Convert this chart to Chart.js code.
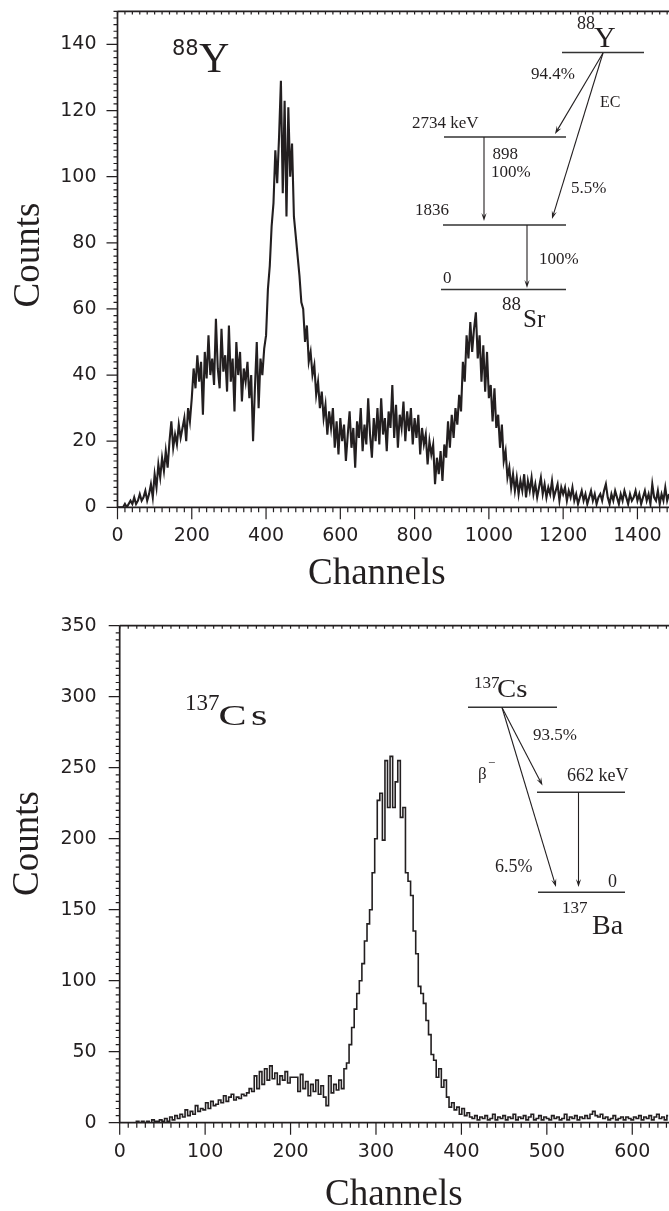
<!DOCTYPE html>
<html>
<head>
<meta charset="utf-8">
<script src="https://cdn.jsdelivr.net/npm/chart.js@4.4.1/dist/chart.umd.min.js"></script>
<style>
  body { margin: 0; background: #fff; overflow: hidden; }
  canvas { position: absolute; left: 0; }
</style>
</head>
<body>
<canvas id="y88Chart" width="669" height="605" style="top:0;width:669px;height:605px"></canvas>
<canvas id="cs137Chart" width="669" height="601" style="top:610px;width:669px;height:601px"></canvas>
<script>
// 88Y spectrum, one value every 5 channels starting at channel 0
const y88Start = 0;
const y88Step = 5;
const y88Counts = [
  0, 0, 0, 0, 1, 0, 1, 2, 1, 3, 1, 2, 4, 2, 3, 5, 2, 4, 7, 3,
  10, 6, 13, 9, 15, 11, 17, 12, 20, 26, 18, 22, 19, 25, 21, 24, 27, 20, 30, 26,
  33, 42, 36, 46, 38, 44, 28, 47, 39, 52, 40, 45, 37, 57, 42, 36, 54, 41, 46, 35,
  55, 38, 45, 29, 50, 40, 47, 32, 42, 38, 44, 33, 40, 20, 36, 50, 30, 45, 40, 48,
  52, 66, 73, 85, 92, 108, 98, 112, 129, 95, 123, 88, 121, 100, 110, 88, 82, 76, 70, 62,
  60, 50, 55, 44, 47, 40, 43, 34, 38, 30, 35, 27, 31, 22, 29, 24, 30, 18, 26, 16,
  27, 20, 25, 14, 22, 29, 18, 24, 12, 26, 21, 30, 17, 25, 19, 33, 22, 15, 27, 20,
  30, 19, 33, 22, 27, 17, 29, 24, 37, 21, 31, 18, 28, 24, 32, 20, 29, 23, 30, 19,
  27, 21, 28, 16, 24, 19, 22, 13, 20, 16, 19, 7, 15, 10, 17, 8, 19, 15, 26, 18,
  28, 21, 30, 25, 34, 29, 44, 38, 52, 45, 56, 47, 54, 59, 45, 52, 38, 49, 35, 47,
  33, 37, 26, 36, 24, 28, 18, 25, 14, 17, 9, 12, 6, 10, 5, 9, 4, 8, 5, 10,
  3, 8, 5, 9, 4, 7, 3, 6, 9, 4, 7, 3, 6, 4, 8, 3, 5, 7, 2, 6,
  4, 6, 2, 5, 3, 6, 2, 4, 1, 3, 5, 2, 4, 1, 3, 5, 2, 4, 1, 3,
  4, 2, 5, 7, 3, 1, 4, 2, 5, 3, 1, 4, 2, 5, 3, 1, 4, 2, 3, 5,
  2, 4, 1, 3, 5, 2, 4, 1, 7, 3, 2, 5, 1, 4, 2, 6, 2, 4
];
const y88XTicks = [0, 200, 400, 600, 800, 1000, 1200, 1400];
const y88YTicks = [0, 20, 40, 60, 80, 100, 120, 140];

// 137Cs spectrum, one value every 3 channels starting at channel 0
const cs137Start = 0;
const cs137Step = 3;
const cs137Counts = [
  0, 0, 0, 0, 0, 0, 0, 1, 0, 1, 0, 1, 0, 2, 1, 1, 2, 1, 3, 1,
  4, 2, 5, 3, 6, 4, 9, 5, 8, 6, 12, 8, 10, 9, 14, 10, 15, 12, 13, 16,
  14, 19, 15, 18, 20, 16, 18, 17, 20, 19, 21, 24, 22, 33, 24, 36, 27, 38, 30, 40,
  31, 35, 27, 33, 30, 36, 28, 32, 32, 32, 22, 34, 24, 29, 19, 27, 22, 30, 20, 26,
  18, 12, 33, 21, 27, 23, 30, 24, 38, 42, 55, 67, 80, 91, 100, 112, 128, 140, 150, 176,
  200, 227, 232, 199, 255, 222, 258, 222, 240, 255, 215, 222, 176, 170, 160, 135, 119, 96, 91, 84,
  72, 62, 48, 44, 32, 38, 25, 30, 18, 11, 14, 9, 11, 6, 10, 5, 7, 4, 3, 5,
  2, 4, 3, 5, 2, 3, 6, 2, 4, 3, 5, 2, 4, 3, 6, 2, 4, 3, 5, 2,
  4, 6, 2, 3, 5, 2, 4, 3, 2, 5, 3, 4, 2, 3, 6, 2, 4, 3, 5, 2,
  4, 3, 5, 3, 6, 8, 5, 4, 6, 3, 4, 2, 3, 5, 2, 3, 4, 2, 4, 3,
  2, 4, 3, 5, 2, 4, 3, 5, 2, 4, 6, 3, 4, 2, 5
];
const cs137XTicks = [0, 100, 200, 300, 400, 500, 600];
const cs137YTicks = [0, 50, 100, 150, 200, 250, 300, 350];

const ink = "#231f20";
const serif = "'Liberation Serif', 'Times New Roman', serif";
const sans = "'DejaVu Sans', sans-serif";

function toPoints(start, step, counts) {
  return counts.map((c, i) => ({ x: start + i * step, y: c }));
}

// axis lines with minor/major tick marks, plus the ruled top border
function framePlugin(xMinor, xMajor, yMinor, yMajor) {
  return {
    id: "frame",
    afterDraw(chart) {
      const { ctx, chartArea: a, scales: { x, y } } = chart;
      ctx.save();
      ctx.strokeStyle = ink;
      ctx.lineWidth = 1.7;
      ctx.beginPath();
      ctx.moveTo(a.left, a.top);
      ctx.lineTo(a.left, a.bottom);
      ctx.lineTo(a.right, a.bottom);
      ctx.moveTo(a.left, a.top);
      ctx.lineTo(a.right, a.top);
      ctx.stroke();
      ctx.lineWidth = 1.2;
      ctx.beginPath();
      for (let v = y.min; v <= y.max + 1e-6; v += yMinor) {
        const py = y.getPixelForValue(v);
        const len = Math.abs(v % yMajor) < 1e-6 ? 11 : 4;
        ctx.moveTo(a.left - len, py);
        ctx.lineTo(a.left, py);
      }
      for (let v = x.min; v <= x.max + 1e-6; v += xMinor) {
        const px = x.getPixelForValue(v);
        const len = Math.abs(v % xMajor) < 1e-6 ? 12 : 5;
        ctx.moveTo(px, a.bottom);
        ctx.lineTo(px, a.bottom + len);
        ctx.moveTo(px, a.top);
        ctx.lineTo(px, a.top + 3);
      }
      ctx.stroke();
      ctx.restore();
    }
  };
}

function txt(ctx, s, x, y, size, family, ls, sx) {
  ctx.save();
  ctx.font = size + "px " + family;
  ctx.letterSpacing = (ls || 0) + "px";
  ctx.textAlign = "left";
  ctx.textBaseline = "alphabetic";
  ctx.translate(x, y);
  ctx.scale(sx || 1, 1);
  ctx.fillText(s, 0, 0);
  ctx.restore();
}

function level(ctx, x1, x2, y) {
  ctx.save();
  ctx.lineWidth = 1.5;
  ctx.strokeStyle = "#333";
  ctx.beginPath();
  ctx.moveTo(x1, y);
  ctx.lineTo(x2, y);
  ctx.stroke();
  ctx.restore();
}

function arrow(ctx, x1, y1, x2, y2) {
  const ang = Math.atan2(y2 - y1, x2 - x1);
  const L = 8, W = 2.6;
  const c = Math.cos(ang), s = Math.sin(ang);
  ctx.lineWidth = 1.1;
  ctx.beginPath();
  ctx.moveTo(x1, y1);
  ctx.lineTo(x2 - c * L * 0.6, y2 - s * L * 0.6);
  ctx.stroke();
  ctx.beginPath();
  ctx.moveTo(x2, y2);
  ctx.lineTo(x2 - L * c + W * s, y2 - L * s - W * c);
  ctx.lineTo(x2 - L * 0.6 * c, y2 - L * 0.6 * s);
  ctx.lineTo(x2 - L * c - W * s, y2 - L * s + W * c);
  ctx.closePath();
  ctx.fill();
}

function titles(ctx, countsX, countsY, chanX, chanY) {
  ctx.save();
  ctx.fillStyle = ink;
  txt(ctx, "Channels", chanX, chanY, 37, serif);
  ctx.translate(countsX, countsY);
  ctx.rotate(-Math.PI / 2);
  ctx.font = "37px " + serif;
  ctx.textAlign = "center";
  ctx.fillText("Counts", 0, 0);
  ctx.restore();
}

const y88Text = {
  id: "y88Text",
  afterDraw(chart) {
    const ctx = chart.ctx;
    ctx.save();
    ctx.fillStyle = ink;
    ctx.strokeStyle = ink;
    titles(ctx, 38.5, 255, 308, 583.5);
    // nuclide label in the plot
    txt(ctx, "88", 172, 55, 21, sans);
    txt(ctx, "Y", 199, 71.5, 42, serif);
    // decay scheme
    txt(ctx, "88", 577, 29, 18, serif);
    txt(ctx, "Y", 594, 46.5, 30, serif);
    level(ctx, 562, 644, 52.5);
    arrow(ctx, 603, 53, 555, 134);
    arrow(ctx, 603, 53, 552, 219);
    txt(ctx, "94.4%", 531, 79, 17, serif);
    txt(ctx, "EC", 600, 107, 16, serif);
    txt(ctx, "2734 keV", 412, 128, 17, serif);
    level(ctx, 444, 566, 137);
    arrow(ctx, 484, 137, 484, 221);
    txt(ctx, "898", 492.5, 159, 17, serif);
    txt(ctx, "100%", 491, 177, 17, serif);
    txt(ctx, "5.5%", 571, 193, 17, serif);
    txt(ctx, "1836", 415, 215, 17, serif);
    level(ctx, 443, 566, 225);
    arrow(ctx, 527, 225, 527, 288);
    txt(ctx, "100%", 539, 264, 17, serif);
    txt(ctx, "0", 443, 283, 17, serif);
    level(ctx, 441, 566, 289.5);
    txt(ctx, "88", 502, 310, 19, serif);
    txt(ctx, "Sr", 523, 326.5, 25, serif);
    ctx.restore();
  }
};

const cs137Text = {
  id: "cs137Text",
  afterDraw(chart) {
    const ctx = chart.ctx;
    ctx.save();
    ctx.fillStyle = ink;
    ctx.strokeStyle = ink;
    titles(ctx, 38, 233.5, 325, 595);
    // nuclide label in the plot
    txt(ctx, "137", 185, 100, 23, serif);
    txt(ctx, "Cs", 218.5, 115, 29, serif, 3, 1.45);
    // decay scheme
    txt(ctx, "137", 474, 78.3, 17, serif);
    txt(ctx, "Cs", 497, 87.3, 25, serif, 0, 1.15);
    level(ctx, 468, 557, 97.3);
    arrow(ctx, 502, 97.5, 542.5, 175.5);
    arrow(ctx, 502, 97.5, 556, 277);
    txt(ctx, "93.5%", 533, 130, 17, serif);
    txt(ctx, "\u03b2", 478, 169.3, 17, serif);
    txt(ctx, "\u2212", 488, 156.7, 13, serif);
    txt(ctx, "662 keV", 567, 170.7, 18, serif);
    level(ctx, 537, 625, 182.3);
    arrow(ctx, 578.5, 182.3, 578.5, 277);
    txt(ctx, "6.5%", 495, 261.7, 18, serif);
    txt(ctx, "0", 608, 277.3, 18, serif);
    level(ctx, 538, 625, 282.3);
    txt(ctx, "137", 562, 303, 17, serif);
    txt(ctx, "Ba", 592, 324, 28, serif);
    ctx.restore();
  }
};

function spectrumChart(id, points, lineWidth, stepped, xMax, yMax, xTicks, yTicks,
                       leftW, topPad, bottomH, yOff, xOff, extra) {
  const tickFont = { family: "DejaVu Sans", size: 19 };
  return new Chart(document.getElementById(id), {
    type: "line",
    data: {
      datasets: [{
        data: points,
        borderColor: ink,
        borderWidth: lineWidth,
        pointRadius: 0,
        tension: 0,
        stepped: stepped,
        fill: false
      }]
    },
    options: {
      responsive: false,
      animation: false,
      events: [],
      layout: { padding: { top: topPad, right: 0, left: 0, bottom: 0 } },
      plugins: { legend: { display: false }, tooltip: { enabled: false } },
      scales: {
        x: {
          type: "linear",
          min: 0,
          max: xMax,
          grid: { display: false, drawTicks: true, tickLength: xOff },
          border: { display: false },
          afterBuildTicks: (s) => { s.ticks = xTicks.map((v) => ({ value: v })); },
          afterFit: (s) => { s.height = bottomH; },
          ticks: { padding: 0, font: tickFont, color: ink, maxRotation: 0, autoSkip: false,
                   includeBounds: false, callback: (v) => String(v) }
        },
        y: {
          type: "linear",
          min: 0,
          max: yMax,
          grid: { display: false, drawTicks: true, tickLength: yOff },
          border: { display: false },
          afterBuildTicks: (s) => { s.ticks = yTicks.map((v) => ({ value: v })); },
          afterFit: (s) => { s.width = leftW; },
          ticks: { padding: 0, font: tickFont, color: ink, includeBounds: false,
                   callback: (v) => String(v) }
        }
      }
    },
    plugins: [extra.frame, extra.text]
  });
}

document.addEventListener("DOMContentLoaded", function () {
  // 88Y panel
  spectrumChart("y88Chart", toPoints(y88Start, y88Step, y88Counts), 2.1, false,
    1485, 150, y88XTicks, y88YTicks, 117.5, 10, 605 - 507.3, 21, 17,
    { frame: framePlugin(20, 200, 2, 20), text: y88Text });

  // 137Cs panel
  spectrumChart("cs137Chart", toPoints(cs137Start, cs137Step, cs137Counts), 1.6, "middle",
    643, 350, cs137XTicks, cs137YTicks, 119.7, 15.7, 601 - 512.7, 23, 18,
    { frame: framePlugin(10, 100, 5, 50), text: cs137Text });
});
</script>
</body>
</html>
